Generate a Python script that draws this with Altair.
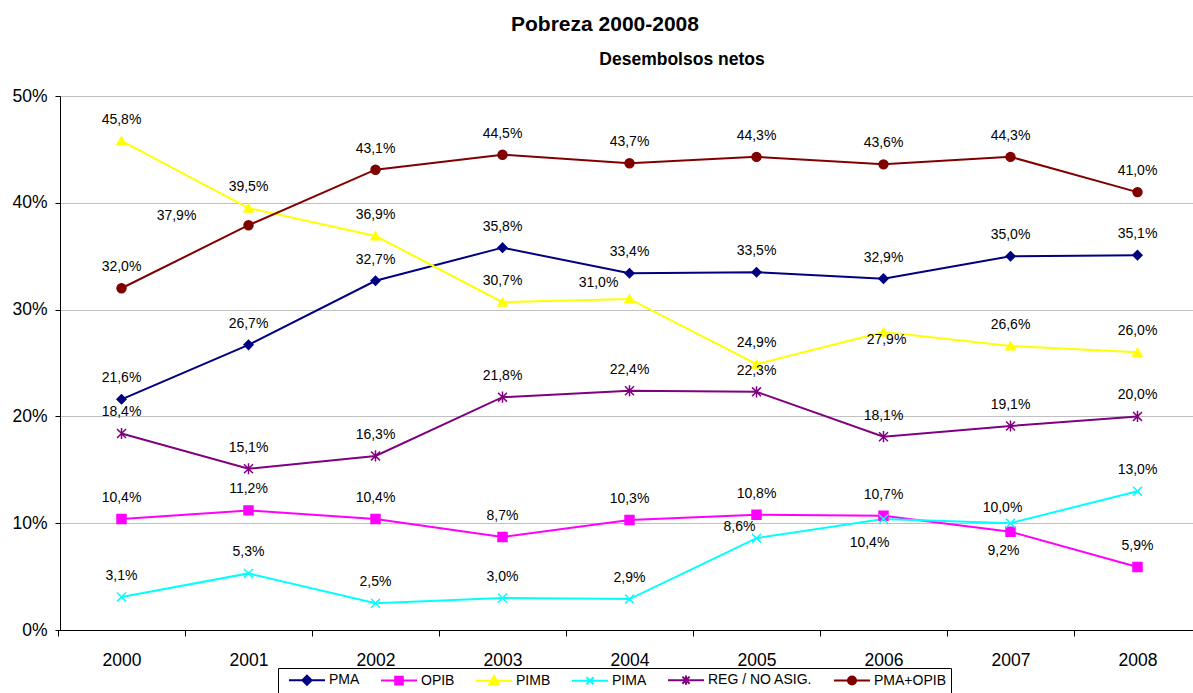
import altair as alt
import pandas as pd

YEARS = ["2000", "2001", "2002", "2003", "2004", "2005", "2006", "2007", "2008"]
SERIES = ["PMA", "OPIB", "PIMB", "PIMA", "REG / NO ASIG.", "PMA+OPIB"]

PMA = [21.6, 26.7, 32.7, 35.8, 33.4, 33.5, 32.9, 35.0, 35.1]
OPIB = [10.4, 11.2, 10.4, 8.7, 10.3, 10.8, 10.7, 9.2, 5.9]
PIMB = [45.8, 39.5, 36.9, 30.7, 31.0, 24.9, 27.9, 26.6, 26.0]
PIMA = [3.1, 5.3, 2.5, 3.0, 2.9, 8.6, 10.4, 10.0, 13.0]
REG = [18.4, 15.1, 16.3, 21.8, 22.4, 22.3, 18.1, 19.1, 20.0]
PMA_OPIB = [32.0, 37.9, 43.1, 44.5, 43.7, 44.3, 43.6, 44.3, 41.0]

# label placement codes per point
PL_PMA = ["a"] * 9
PL_OPIB = ["a", "a", "a", "a", "a", "a", "a", "b9", "a"]
PL_PIMB = ["a", "a", "a", "a", "u1", "a", "c", "a", "a"]
PL_PIMA = ["a", "a", "a", "a", "a", "u2", "b", "u3", "a"]
PL_REG = ["a"] * 9
PL_PMA_OPIB = ["a", "l", "a", "a", "a", "a", "a", "a", "a"]

TITLE = "Pobreza 2000-2008"
SUBTITLE = "Desembolsos netos"

# styles
COLORS = ["#000080", "#FF00FF", "#FFFF00", "#00FFFF", "#800080", "#800000"]
X_PATH = "M-1,-1L1,1M-1,1L1,-1"
AST_PATH = "M-1,-1L1,1M-1,1L1,-1M0,-1.25L0,1.25"
SHAPES = ["diamond", "square", "triangle-up", X_PATH, AST_PATH, "circle"]
# legend symbols: a line segment with the marker in its middle (marker centred at x=4.25)
LINE = "M-0.25,0H8.75"
LEG_SHAPES = [
    LINE + "M4.25,-1.15L5.4,0L4.25,1.15L3.1,0Z",
    LINE + "M3.3,-0.95H5.2V0.95H3.3Z",
    LINE + "M4.25,-1.2L5.45,0.9H3.05Z",
    LINE + "M3.35,-0.9L5.15,0.9M3.35,0.9L5.15,-0.9",
    LINE + "M3.35,-0.9L5.15,0.9M3.35,0.9L5.15,-0.9M4.25,-1.15V1.15",
    LINE + "M5.25,0A1,1 0 1,1 3.25,0A1,1 0 1,1 5.25,0Z",
]
OFFSETS = {
    "a": (0, -21),
    "b": (-14, 24),
    "b9": (-7, 19),
    "c": (3, 8),
    "l": (-72, -9),
    "u1": (-31, -16),
    "u2": (-17, -11),
    "u3": (-8, -15),
}
FONT = "Liberation Sans"

rows = []
for s, vals, pl in zip(
    SERIES,
    [PMA, OPIB, PIMB, PIMA, REG, PMA_OPIB],
    [PL_PMA, PL_OPIB, PL_PIMB, PL_PIMA, PL_REG, PL_PMA_OPIB],
):
    for y, v, p in zip(YEARS, vals, pl):
        rows.append({"year": y, "series": s, "value": v, "place": p})
df = pd.DataFrame(rows)

W, H = 1133, 534

x_enc = alt.X(
    "year:O",
    sort=YEARS,
    scale=alt.Scale(type="band", paddingInner=0, paddingOuter=0, range=[-2, 1141]),
    axis=alt.Axis(
        title=None,
        grid=False,
        ticks=True,
        tickSize=6,
        tickBand="extent",
        tickColor="#000000",
        domainColor="#000000",
        labelAngle=0,
        labelPadding=15,
        labelFontSize=17.5,
        labelFont=FONT,
        labelColor="#000000",
    ),
)
y_enc = alt.Y(
    "value:Q",
    scale=alt.Scale(domain=[0, 50], nice=False, zero=True),
    axis=alt.Axis(
        title=None,
        values=[0, 10, 20, 30, 40, 50],
        labelExpr="datum.value + '%'",
        grid=True,
        gridColor="#c0c0c0",
        gridWidth=1,
        tickSize=5,
        tickColor="#000000",
        domainColor="#000000",
        labelPadding=8,
        labelFontSize=17.5,
        labelFont=FONT,
        labelColor="#000000",
    ),
)

base = alt.Chart(df)
cscale = alt.Scale(domain=SERIES, range=COLORS)

lines = base.mark_line(strokeWidth=2).encode(
    x=x_enc,
    y=y_enc,
    color=alt.Color("series:N", scale=cscale, legend=None),
)

points = base.mark_point(filled=True, strokeWidth=1.5, opacity=1, size=80).encode(
    x=x_enc,
    y=y_enc,
    shape=alt.Shape("series:N", scale=alt.Scale(domain=SERIES, range=SHAPES), legend=None),
    fill=alt.Fill("series:N", scale=cscale, legend=None),
    stroke=alt.Stroke("series:N", scale=cscale, legend=None),
)

label_layers = []
for code, (dx, dy) in OFFSETS.items():
    label_layers.append(
        base.transform_filter(alt.datum.place == code)
        .transform_calculate(
            label="replace(format(datum.value, '.1f'), '.', ',') + '%'"
        )
        .mark_text(dx=dx, dy=dy, fontSize=14, font=FONT, color="#000000", baseline="middle")
        .encode(x=x_enc, y=y_enc, text="label:N")
    )

legend_layer = base.transform_filter("false").mark_point(
    filled=True, opacity=1
).encode(
    x=x_enc,
    y=y_enc,
    shape=alt.Shape(
        "series:N",
        scale=alt.Scale(domain=SERIES, range=LEG_SHAPES),
        legend=alt.Legend(
            title=None,
            orient="none",
            legendX=218,
            legendY=572,
            direction="horizontal",
            labelFont=FONT,
            labelFontSize=14,
            labelColor="#000000",
            symbolSize=64,
            symbolStrokeWidth=2,
            labelOffset=32,
            columnPadding=15,
            strokeColor="#000000",
            padding=5,
            symbolOpacity=1,
        ),
    ),
    fill=alt.Fill("series:N", scale=cscale),
    stroke=alt.Stroke("series:N", scale=cscale),
)

title_df = pd.DataFrame({"t": [TITLE]})
sub_df = pd.DataFrame({"t": [SUBTITLE]})
title = alt.Chart(title_df).mark_text(
    fontSize=21, fontWeight="bold", font=FONT, color="#000000", align="center", baseline="alphabetic"
).encode(x=alt.value(545), y=alt.value(-65), text="t:N")
subtitle = alt.Chart(sub_df).mark_text(
    fontSize=17.5, fontWeight="bold", font=FONT, color="#000000", align="center", baseline="alphabetic"
).encode(x=alt.value(622), y=alt.value(-31), text="t:N")

chart = (
    alt.layer(lines, points, *label_layers, legend_layer, title, subtitle)
    .resolve_scale(shape="independent", fill="independent", stroke="independent", color="independent")
    .properties(
        width=W,
        height=H,
        padding={"left": 60, "top": 96, "right": 0, "bottom": 63},
        autosize=alt.AutoSizeParams(type="none"),
        background="#ffffff",
    )
    .configure_view(stroke=None)
)

chart.save("out.html", embed_options={"renderer": "svg", "actions": False})
